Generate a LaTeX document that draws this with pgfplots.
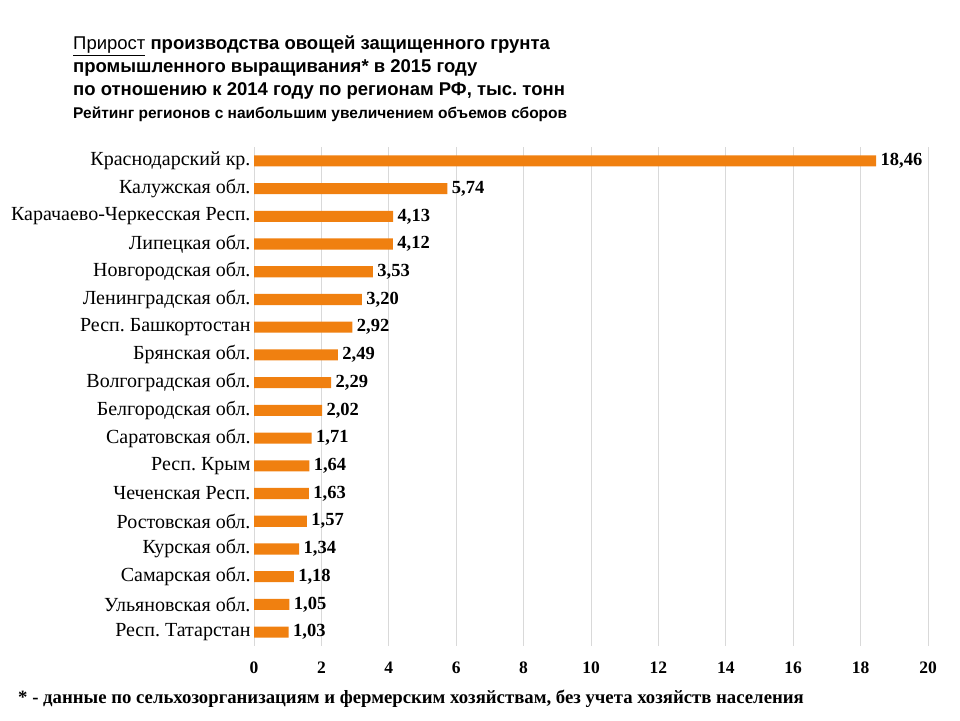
\documentclass[border=0pt]{standalone}
\usepackage{fontspec}
\setmainfont{Liberation Serif}
\newfontfamily\arialf{Liberation Sans}
\usepackage{pgfplots}
\pgfplotsset{compat=1.18}
\definecolor{barorange}{RGB}{240,128,16}
\definecolor{gridgray}{RGB}{217,217,217}
\frenchspacing
\begin{document}
\begin{tikzpicture}[x=1pt,y=1pt]
\useasboundingbox (0,0) rectangle (960,720);
\begin{axis}[
  at={(254pt,74pt)}, anchor=south west,
  scale only axis, width=674pt, height=499pt,
  xbar, bar width=0.4,
  xmin=0, xmax=20, ymin=-0.5, ymax=17.5,
  y dir=reverse,
  axis line style={draw=none},
  xtick={0,2,...,20},
  ytick={0,...,17},
  yticklabels={Краснодарский кр., Калужская обл., Карачаево-Черкесская Респ., Липецкая обл., Новгородская обл., Ленинградская обл., Респ. Башкортостан, Брянская обл., Волгоградская обл., Белгородская обл., Саратовская обл., Респ. Крым, Чеченская Респ., Ростовская обл., Курская обл., Самарская обл., Ульяновская обл., Респ. Татарстан},
  major tick length=0,
  xmajorgrids, major grid style={gridgray, line width=0.8pt},
  /pgf/number format/assume math mode=true,
  xticklabel style={font=\fontsize{17.5}{20}\selectfont\bfseries, yshift=-12pt},
  yticklabel style={font=\fontsize{20}{22}\selectfont},
  nodes near coords={\pgfmathprintnumber[fixed, fixed zerofill, precision=2, use comma, assume math mode=true]{\pgfplotspointmeta}},
  nodes near coords style={font=\fontsize{18.5}{20}\selectfont\bfseries, anchor=west, xshift=1pt},
  point meta=explicit,
  clip=false,
]
\addplot[fill=barorange, draw=none] table[x=v, y=i, meta=v] {
i v
0 18.46
1 5.74
2 4.13
3 4.12
4 3.53
5 3.20
6 2.92
7 2.49
8 2.29
9 2.02
10 1.71
11 1.64
12 1.63
13 1.57
14 1.34
15 1.18
16 1.05
17 1.03
};
\end{axis}
\node[anchor=north west, align=left, inner sep=0pt, font=\arialf\bfseries\fontsize{18.5}{22.7}\selectfont] at (73,684)
  {\underline{\mdseries Прирост} производства овощей защищенного грунта\\
   промышленного выращивания* в 2015 году\\
   по отношению к 2014 году по регионам РФ, тыс. тонн\\
   {\fontsize{15.5}{16}\selectfont Рейтинг регионов с наибольшим увеличением объемов сборов}};
\node[anchor=west, inner sep=0pt, font=\fontsize{18.75}{20}\selectfont\bfseries] at (18,21)
  {* - данные по сельхозорганизациям и фермерским хозяйствам, без учета хозяйств населения};
\end{tikzpicture}
\end{document}
